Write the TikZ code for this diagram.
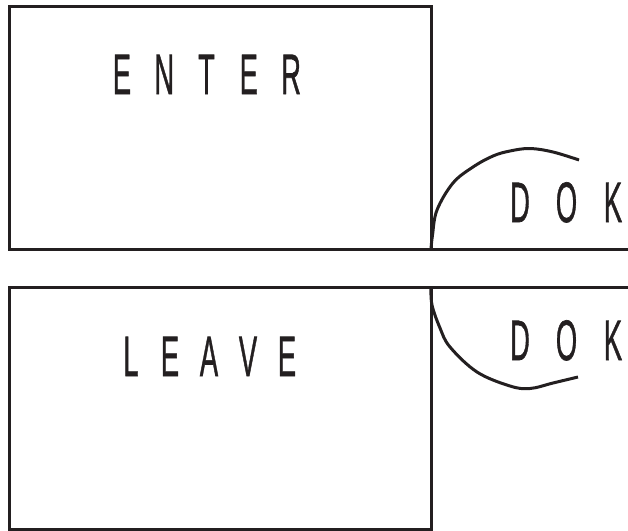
\documentclass[tikz,border=0pt]{standalone}
\usepackage{fontspec}
\setmainfont{Liberation Sans}[FakeBold=1.2]
\definecolor{ink}{RGB}{35,31,32}
\newcommand\spl[2]{\makebox[#1pt]{\scalebox{0.48}[1]{#2}}}
\begin{document}
\begin{tikzpicture}[x=1pt,y=-1pt,
  frame/.style={draw=ink, line width=3pt},
  curve/.style={draw=ink, line width=3pt},
  word/.style={inner sep=0pt, anchor=base, text=ink, font=\fontsize{57}{60}\selectfont}]
\useasboundingbox (0,0) rectangle (628,530);
% top box
\coordinate (tbl) at (9.5,249);
\coordinate (ttl) at (9.5,6.5);
\coordinate (ttr) at (431,6.5);
\coordinate (tbr) at (431,249);
\coordinate (tend) at (628,249);
\draw[frame] (tbr) -- (ttr) -- (ttl) -- (tbl) -- (tend);
% bottom box
\coordinate (btl) at (9.5,287);
\coordinate (bbl) at (9.5,529);
\coordinate (bbr) at (431,529);
\coordinate (btr) at (431,287);
\coordinate (bend) at (628,287);
\draw[frame] (btr) -- (bbr) -- (bbl) -- (btl) -- (bend);
% arcs
\draw[curve] plot[smooth, tension=0.6] coordinates {(431,249) (432.5,235) (437,210) (453,183) (473,167) (493,156) (510,151) (530,148.5) (553,152) (579,160)};
\draw[curve] plot[smooth, tension=0.6] coordinates {(431,287) (432,305) (440,328) (450,347) (477,372) (510,386) (530,388.5) (553,383) (578,377)};
% texts
\node[word] (enter) at (206.5,94) {\spl{42.3}{E}\spl{42.3}{N}\spl{42.3}{T}\spl{42.3}{E}\spl{42.3}{R}};
\node[word] (leave) at (209,376) {\spl{39}{L}\spl{39}{E}\spl{39}{A}\spl{39}{V}\spl{39}{E}};
\node[word] (dok1) at (566.5,222) {\spl{46.5}{D}\spl{46.5}{O}\spl{46.5}{K}};
\node[word] (dok2) at (566.5,360) {\spl{46.5}{D}\spl{46.5}{O}\spl{46.5}{K}};
\end{tikzpicture}
\end{document}
